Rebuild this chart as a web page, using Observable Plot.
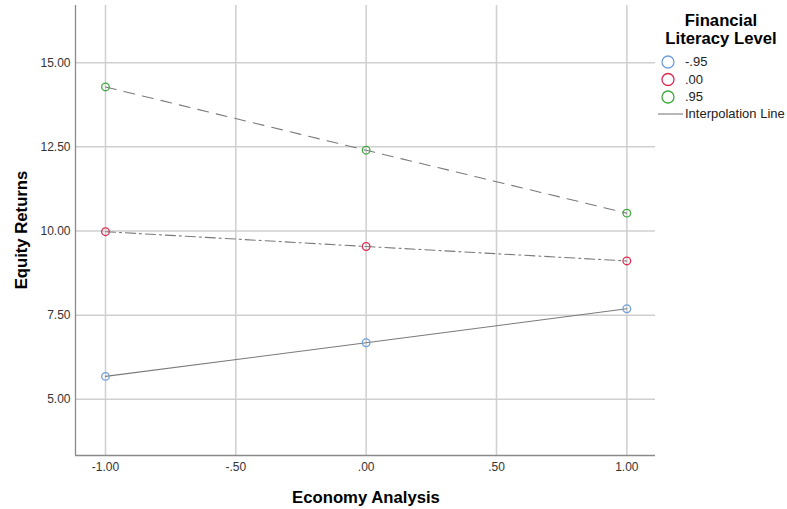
<!DOCTYPE html>
<html>
<head>
<meta charset="utf-8">
<script src="https://cdn.jsdelivr.net/npm/d3@7"></script>
<script src="https://cdn.jsdelivr.net/npm/@observablehq/plot@0.6"></script>
<style>
  body { margin: 0; background: #fff; font-family: "Liberation Sans", Arial, sans-serif; }
  #wrap { position: relative; width: 787px; height: 509px; overflow: hidden; }
  .lab { position: absolute; font-weight: bold; font-size: 16.7px; color: #000; white-space: nowrap; }
  .leg { position: absolute; font-size: 13px; color: #222; white-space: nowrap; }
</style>
</head>
<body>
<div id="wrap"></div>
<script>
// ---- data ----
const economyX = [-1, 0, 1];
const levels = ["-.95", ".00", ".95"];
const lowReturns = [5.68, 6.68, 7.69];
const midReturns = [9.98, 9.54, 9.11];
const highReturns = [14.28, 12.40, 10.53];
const levelColors = ["#6f9fdc", "#e0294f", "#40a840"];
const levelDash = [null, "10,4,2,4", "11,8"];
const xTicks = [-1, -0.5, 0, 0.5, 1];
const xTickLabels = ["-1.00", "-.50", ".00", ".50", "1.00"];
const yTicks = [5, 7.5, 10, 12.5, 15];
const yTickLabels = ["5.00", "7.50", "10.00", "12.50", "15.00"];
const xDomain = [-1.115, 1.11];
const yDomain = [3.33, 16.7];

const series = [lowReturns, midReturns, highReturns];
const rows = [];
series.forEach((vals, i) => vals.forEach((v, j) => rows.push({level: levels[i], x: economyX[j], y: v})));

const lineMarks = levels.map((lv, i) =>
  Plot.line(rows.filter(d => d.level === lv), {
    x: "x", y: "y", stroke: "#7a7a7a", strokeWidth: 1.1,
    strokeDasharray: levelDash[i] || undefined
  })
);

const chart = Plot.plot({
  width: 787, height: 509,
  marginLeft: 75, marginRight: 132, marginTop: 5, marginBottom: 54,
  style: {fontFamily: "Liberation Sans, Arial, sans-serif", fontSize: "12px", color: "#333", background: "#fff"},
  x: {domain: xDomain, ticks: xTicks, tickFormat: d => xTickLabels[xTicks.indexOf(d)]},
  y: {domain: yDomain, ticks: yTicks, tickFormat: d => yTickLabels[yTicks.indexOf(d)]},
  color: {domain: levels, range: levelColors},
  marks: [
    Plot.gridX(xTicks, {stroke: "#cfcfcf", strokeOpacity: 1, strokeWidth: 1.5}),
    Plot.gridY(yTicks, {stroke: "#cfcfcf", strokeOpacity: 1, strokeWidth: 1.5}),
    Plot.ruleX([xDomain[0]], {stroke: "#8a8a8a", strokeWidth: 1.3}),
    Plot.ruleY([yDomain[0]], {stroke: "#8a8a8a", strokeWidth: 1.3}),
    Plot.axisX(xTicks, {tickSize: 0, tickPadding: 7, label: null, tickFormat: d => xTickLabels[xTicks.indexOf(d)]}),
    Plot.axisY(yTicks, {tickSize: 0, tickPadding: 5, label: null, tickFormat: d => yTickLabels[yTicks.indexOf(d)]}),
    ...lineMarks,
    Plot.dot(rows, {x: "x", y: "y", stroke: "level", r: 3.8, strokeWidth: 1.3, fill: "white", fillOpacity: 0})
  ]
});

const wrap = document.getElementById("wrap");
chart.style.position = "absolute";
chart.style.left = "0px";
chart.style.top = "0px";
wrap.appendChild(chart);

function addDiv(cls, text, css) {
  const d = document.createElement("div");
  d.className = cls;
  d.textContent = text;
  Object.assign(d.style, css);
  wrap.appendChild(d);
  return d;
}

// axis titles
addDiv("lab", "Economy Analysis", {left: "366px", top: "488px", transform: "translateX(-50%)"});
addDiv("lab", "Equity Returns", {left: "22px", top: "230px", transform: "translate(-50%,-50%) rotate(-90deg)"});

// legend
addDiv("lab", "Financial", {left: "721px", top: "11px", transform: "translateX(-50%)"});
addDiv("lab", "Literacy Level", {left: "721px", top: "29px", transform: "translateX(-50%)"});

const legSvgNS = "http://www.w3.org/2000/svg";
const legSvg = document.createElementNS(legSvgNS, "svg");
legSvg.setAttribute("width", "40");
legSvg.setAttribute("height", "80");
Object.assign(legSvg.style, {position: "absolute", left: "650px", top: "50px"});
levels.forEach((lv, i) => {
  const c = document.createElementNS(legSvgNS, "circle");
  c.setAttribute("cx", "18");
  c.setAttribute("cy", String(12 + i * 17.5));
  c.setAttribute("r", "6");
  c.setAttribute("fill", "none");
  c.setAttribute("stroke", levelColors[i]);
  c.setAttribute("stroke-width", "1.3");
  legSvg.appendChild(c);
});
const ln = document.createElementNS(legSvgNS, "line");
ln.setAttribute("x1", "8"); ln.setAttribute("x2", "33");
ln.setAttribute("y1", "64"); ln.setAttribute("y2", "64");
ln.setAttribute("stroke", "#909090"); ln.setAttribute("stroke-width", "1.3");
legSvg.appendChild(ln);
wrap.appendChild(legSvg);

levels.forEach((lv, i) => {
  addDiv("leg", lv, {left: "685px", top: (54 + i * 17.5) + "px"});
});
addDiv("leg", "Interpolation Line", {left: "685px", top: "106px"});
</script>
</body>
</html>
